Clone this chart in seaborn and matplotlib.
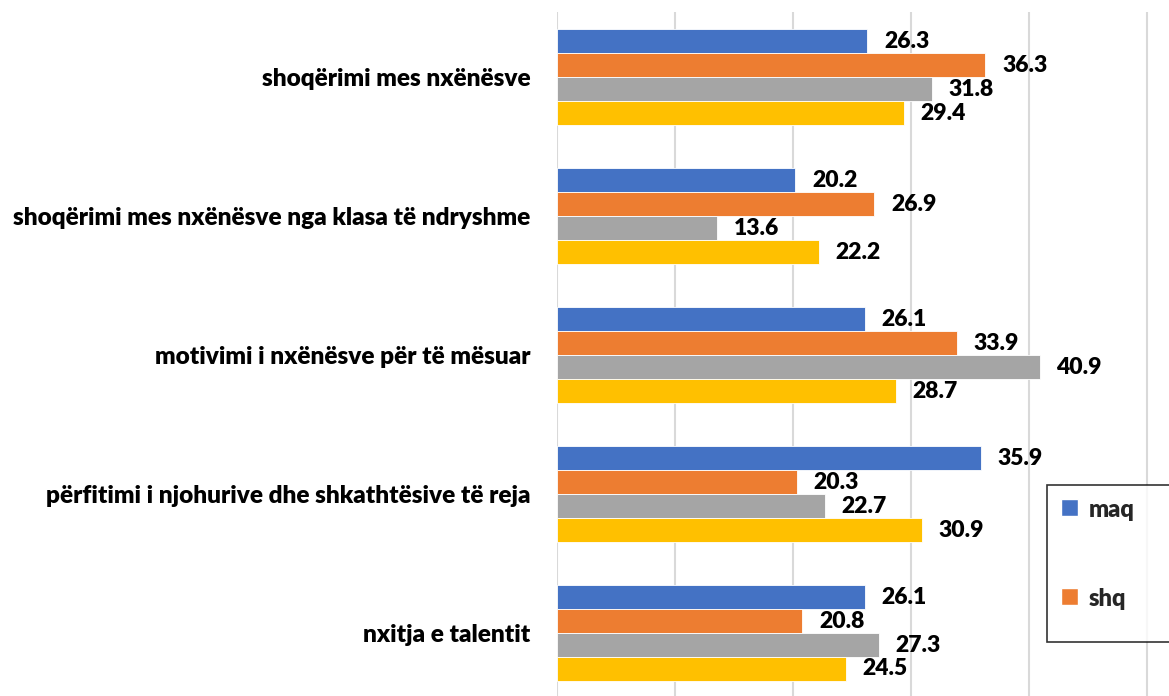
import matplotlib
matplotlib.use("Agg")
import matplotlib.pyplot as plt
from matplotlib.patches import Patch
import seaborn as sns
import pandas as pd

categories = [
    "shoqërimi mes nxënësve",
    "shoqërimi mes nxënësve nga klasa të ndryshme",
    "motivimi i nxënësve për të mësuar",
    "përfitimi i njohurive dhe shkathtësive të reja",
    "nxitja e talentit",
]
series_names = ["maq", "shq", "seria 3", "seria 4"]
maq = [26.3, 20.2, 26.1, 35.9, 26.1]
shq = [36.3, 26.9, 33.9, 20.3, 20.8]
seria3 = [31.8, 13.6, 40.9, 22.7, 27.3]
seria4 = [29.4, 22.2, 28.7, 30.9, 24.5]
colors = ["#4472C4", "#ED7D31", "#A5A5A5", "#FFC000"]

rows = []
for name, vals in zip(series_names, [maq, shq, seria3, seria4]):
    for c, v in zip(categories, vals):
        rows.append({"category": c, "series": name, "value": v})
df = pd.DataFrame(rows)

sns.set_theme(style="white")
plt.rcParams["font.family"] = ["Lato", "DejaVu Sans"]
WEIGHT = "heavy"

fig = plt.figure(figsize=(11.69, 6.96), dpi=100)
ax = fig.add_axes([557 / 1169, 1 - 702.5 / 696, (1265 - 557) / 1169, (702.5 - 12) / 696])

sns.barplot(
    data=df, y="category", x="value", hue="series", order=categories,
    hue_order=series_names, palette=colors, saturation=1, orient="h", width=0.69,
    edgecolor="white", linewidth=0.6, legend=False, ax=ax,
)

for cont in ax.containers:
    ax.bar_label(cont, fmt="%.1f", padding=12, fontsize=16.5,
                 fontweight=WEIGHT, color="#000000")

ax.set_xlim(0, 60)
ax.set_ylim(4.5, -0.47)
ax.set_xticks(range(0, 61, 10))
ax.tick_params(axis="x", labelbottom=False, length=0)
ax.tick_params(axis="y", length=0, pad=19, labelsize=17.6)
for t in ax.get_yticklabels():
    t.set_fontweight(WEIGHT)
    t.set_color("#000000")
ax.set_xlabel("")
ax.set_ylabel("")
ax.grid(axis="x", color="#D9D9D9", linewidth=1.5)
ax.set_axisbelow(True)
for s in ax.spines.values():
    s.set_visible(False)

handles = [Patch(facecolor=colors[0], label="maq"), Patch(facecolor=colors[1], label="shq\n")]
leg = fig.legend(
    handles=handles, loc="upper left",
    bbox_to_anchor=(1047 / 1169, 1 - 485 / 696, 0.2, 0.0), mode="expand",
    frameon=True, fancybox=False, borderaxespad=0, borderpad=0.6,
    labelspacing=2.85, handlelength=0.7, handleheight=0.7, handletextpad=0.45,
    prop={"weight": WEIGHT, "size": 17},
)
leg.get_texts()[1].set_linespacing(0.75)
# align each handle with the first text line of its entry
for col in leg._legend_handle_box.get_children():
    for entry in col.get_children():
        entry.align = "top"
leg.get_frame().set_edgecolor("#000000")
leg.get_frame().set_linewidth(1.2)

fig.savefig("out.png", dpi=100)
